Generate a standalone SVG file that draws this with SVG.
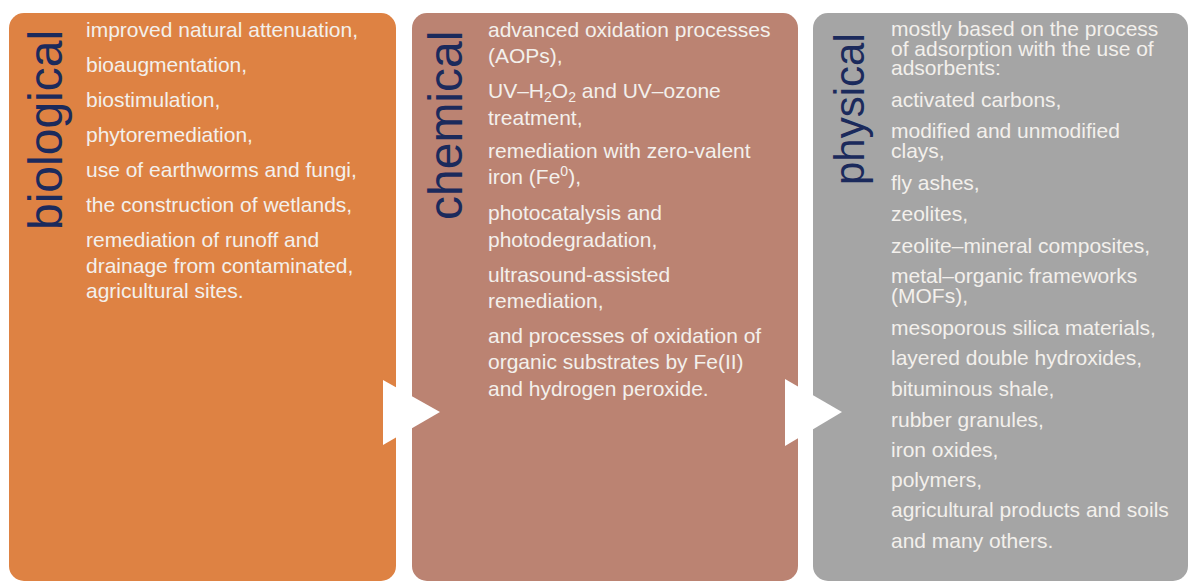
<svg xmlns="http://www.w3.org/2000/svg" width="1189" height="582" viewBox="0 0 1189 582">
<style>
.box{stroke:none}
.title{font-family:"Liberation Sans",Arial,sans-serif;fill:#1B2A5C}
.t{font-family:"Liberation Sans",Arial,sans-serif;font-size:21px;fill:#F3F0EC}
.sub{font-size:14px}
.arrow{fill:#FFFFFF}
</style>
<rect width="1189" height="582" fill="#FFFFFF"/>
<g id="biological">
<rect class="box" x="9" y="13" width="387" height="568" rx="15" fill="#DE8243"/>
<text class="title" font-size="48" transform="translate(62,230) rotate(-90)">biological</text>
<text class="t">
<tspan x="86" y="37">improved natural attenuation,</tspan>
<tspan x="86" y="72">bioaugmentation,</tspan>
<tspan x="86" y="107">biostimulation,</tspan>
<tspan x="86" y="142">phytoremediation,</tspan>
<tspan x="86" y="177">use of earthworms and fungi,</tspan>
<tspan x="86" y="212">the construction of wetlands,</tspan>
<tspan x="86" y="247">remediation of runoff and</tspan>
<tspan x="86" y="272.5">drainage from contaminated,</tspan>
<tspan x="86" y="298">agricultural sites.</tspan>
</text>
</g>
<g id="chemical">
<rect class="box" x="412" y="13" width="386" height="568" rx="15" fill="#BB8372"/>
<text class="title" font-size="48" transform="translate(462,220) rotate(-90)">chemical</text>
<text class="t">
<tspan x="488" y="37">advanced oxidation processes</tspan>
<tspan x="488" y="63">(AOPs),</tspan>
<tspan x="488" y="98">UV–H</tspan><tspan class="sub" dy="4">2</tspan><tspan dy="-4">O</tspan><tspan class="sub" dy="4">2</tspan><tspan dy="-4"> and UV–ozone</tspan>
<tspan x="488" y="125">treatment,</tspan>
<tspan x="488" y="158">remediation with zero-valent</tspan>
<tspan x="488" y="184">iron (Fe</tspan><tspan class="sub" dy="-8">0</tspan><tspan dy="8">),</tspan>
<tspan x="488" y="220">photocatalysis and</tspan>
<tspan x="488" y="247">photodegradation,</tspan>
<tspan x="488" y="282">ultrasound-assisted</tspan>
<tspan x="488" y="308">remediation,</tspan>
<tspan x="488" y="343">and processes of oxidation of</tspan>
<tspan x="488" y="369">organic substrates by Fe(II)</tspan>
<tspan x="488" y="396">and hydrogen peroxide.</tspan>
</text>
</g>
<g id="physical">
<rect class="box" x="813" y="13" width="375" height="568" rx="15" fill="#A5A5A5"/>
<text class="title" font-size="42" transform="translate(864,185) rotate(-90)">physical</text>
<text class="t">
<tspan x="891" y="35.5">mostly based on the process</tspan>
<tspan x="891" y="55.5">of adsorption with the use of</tspan>
<tspan x="891" y="75">adsorbents:</tspan>
<tspan x="891" y="106.5">activated carbons,</tspan>
<tspan x="891" y="138">modified and unmodified</tspan>
<tspan x="891" y="158">clays,</tspan>
<tspan x="891" y="190">fly ashes,</tspan>
<tspan x="891" y="221">zeolites,</tspan>
<tspan x="891" y="253">zeolite–mineral composites,</tspan>
<tspan x="891" y="283">metal–organic frameworks</tspan>
<tspan x="891" y="303">(MOFs),</tspan>
<tspan x="891" y="335">mesoporous silica materials,</tspan>
<tspan x="891" y="365">layered double hydroxides,</tspan>
<tspan x="891" y="396">bituminous shale,</tspan>
<tspan x="891" y="427">rubber granules,</tspan>
<tspan x="891" y="457">iron oxides,</tspan>
<tspan x="891" y="487">polymers,</tspan>
<tspan x="891" y="517">agricultural products and soils</tspan>
<tspan x="891" y="548">and many others.</tspan>
</text>
</g>
<g id="connectors">
<polygon class="arrow" points="383,380 440,412 383,445"/>
<polygon class="arrow" points="785,379 842,412 785,446"/>
</g>
</svg>
